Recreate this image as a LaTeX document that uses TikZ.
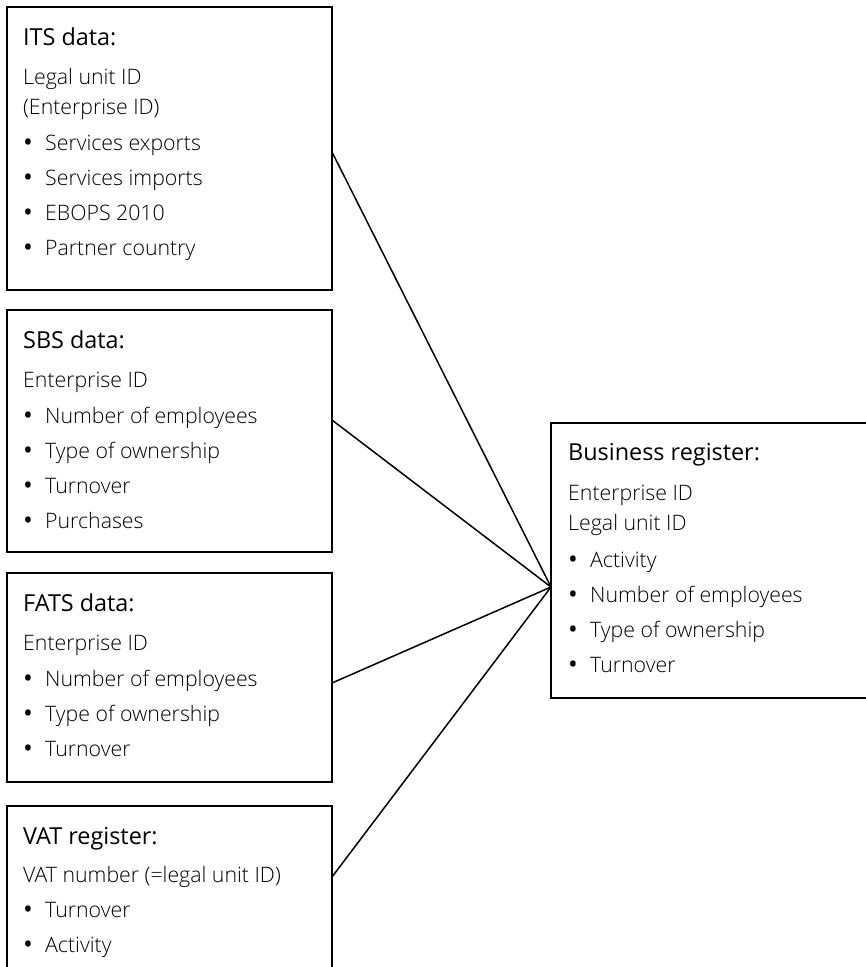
\documentclass[tikz,border=0pt]{standalone}
\usepackage{fontspec}
\setmainfont{Open Sans Light}[BoldFont={Open Sans}]
\usetikzlibrary{positioning}

\newcommand\itm{\makebox[22pt][l]{\raisebox{-1.5pt}{\fontsize{26}{30}\selectfont\bfseries\textbullet}}}
\newcommand\hd[1]{{\fontsize{23.4}{30}\selectfont\bfseries\rule{0pt}{18pt}#1}}

\begin{document}
\begin{tikzpicture}[x=1pt, y=-1pt,
    box/.style={draw, line width=1.7pt, anchor=north west, minimum width=325pt, inner sep=0pt, outer sep=0pt},
    info/.style={anchor=north west, align=left, inner sep=0pt, font=\fontsize{21.3}{30}\selectfont},
    link/.style={line width=1.5pt},
  ]
    \useasboundingbox (0,0) rectangle (866,967);
    \clip (0,0) rectangle (866,967);

    \node[box, minimum height=283pt] (its) at (7,7) {};
    \node[box, minimum height=242pt] (sbs) at (7,310) {};
    \node[box, minimum height=209pt] (fats) at (7,573) {};
    \node[box, minimum height=200pt] (vat) at (7,806) {};
    \node[box, minimum height=275pt, minimum width=340pt] (br) at (551,423) {};

    \node[info] (its-txt) at ([xshift=16pt,yshift=-20pt]its.north west) {\hd{ITS data:}\\[9pt]
      Legal unit ID\\(Enterprise ID)\\[6pt]
      \itm Services exports\\[5pt]\itm Services imports\\[5pt]
      \itm EBOPS 2010\\[5pt]\itm Partner country};
    \node[info] (sbs-txt) at ([xshift=16pt,yshift=-20pt]sbs.north west) {\hd{SBS data:}\\[9pt]
      Enterprise ID\\[6pt]
      \itm Number of employees\\[5pt]\itm Type of ownership\\[5pt]
      \itm Turnover\\[5pt]\itm Purchases};
    \node[info] (fats-txt) at ([xshift=16pt,yshift=-20pt]fats.north west) {\hd{FATS data:}\\[9pt]
      Enterprise ID\\[6pt]
      \itm Number of employees\\[5pt]\itm Type of ownership\\[5pt]
      \itm Turnover};
    \node[info] (vat-txt) at ([xshift=16pt,yshift=-20pt]vat.north west) {\hd{VAT register:}\\[8pt]
      VAT number (=legal unit ID)\\[5pt]
      \itm Turnover\\[5pt]\itm Activity};
    \node[info] (br-txt) at ([xshift=17pt,yshift=-19pt]br.north west) {\hd{Business register:}\\[10pt]
      Enterprise ID\\Legal unit ID\\[7pt]
      \itm Activity\\[5pt]\itm Number of employees\\[5pt]
      \itm Type of ownership\\[5pt]\itm Turnover};

    \coordinate (hub) at ([yshift=-164pt]br.north west);

    \draw[link] ([yshift=-145pt]its.north east) -- (hub);
    \draw[link] ([yshift=-110pt]sbs.north east) -- (hub);
    \draw[link] ([yshift=-110pt]fats.north east) -- (hub);
    \draw[link] ([yshift=-71pt]vat.north east) -- (hub);

\end{tikzpicture}
\end{document}
